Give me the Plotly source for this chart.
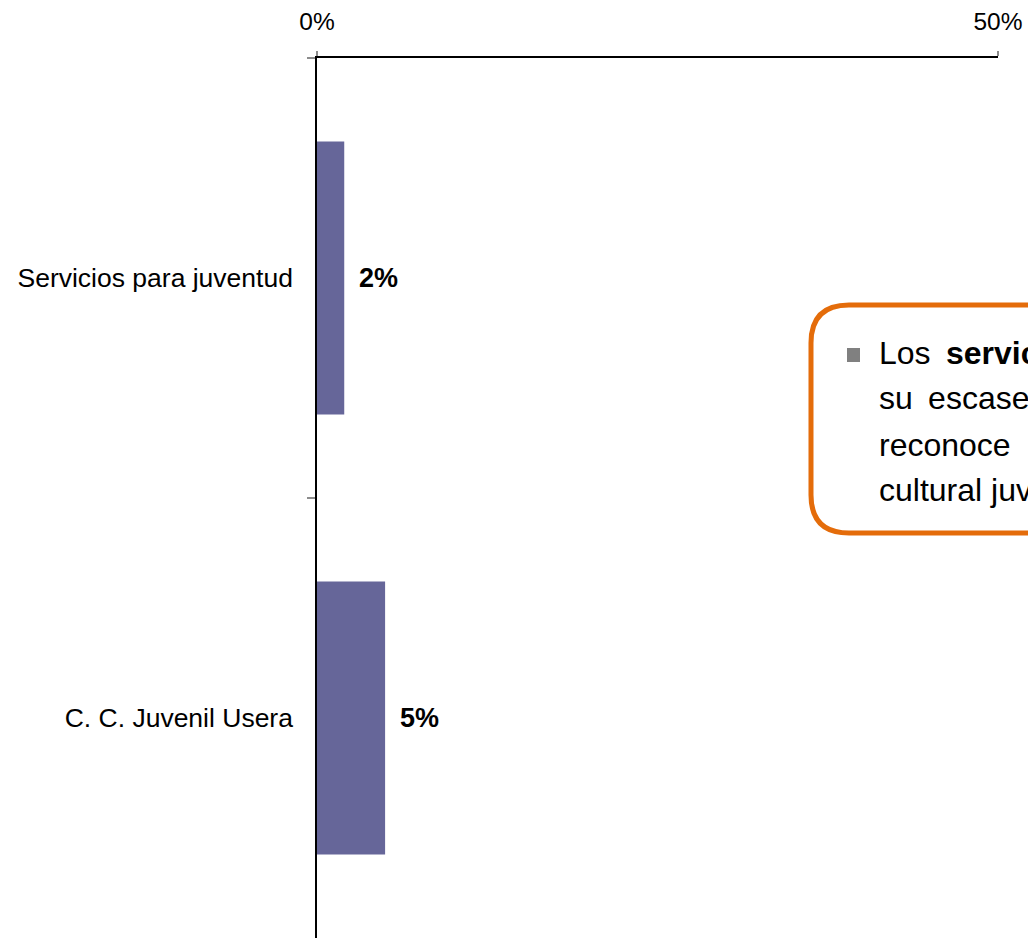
import plotly.graph_objects as go

# Chart data
categories = ["Servicios para juventud", "C. C. Juvenil Usera"]
values = [2, 5]
value_labels = ["2%", "5%"]
x_tick_vals = [0, 50]
x_tick_text = ["0%", "50%"]
note_lines = [
    "Los\u2009 <b>servicios</b>",
    "su\u2009 escasez",
    "reconoce",
    "cultural juvenil",
]

FONT = "Liberation Sans, Arial, sans-serif"
W, H = 1028, 938
L_M, R_M, T_M, B_M = 317, 30, 58, 0
PW = W - L_M - R_M
PH = H - T_M - B_M


def px(x):
    """Pixel column -> paper x."""
    return (x - L_M) / PW


def py(y):
    """Pixel row -> paper y."""
    return (H - B_M - y) / PH


fig = go.Figure(
    go.Bar(
        y=categories,
        x=values,
        orientation="h",
        marker=dict(color="#666699", line=dict(width=0)),
        hoverinfo="skip",
    )
)

# Value labels just past the end of each bar
annotations = []
for cat, v, lab in zip(categories, values, value_labels):
    annotations.append(dict(
        x=v, y=cat, xref="x", yref="y", text=f"<b>{lab}</b>",
        showarrow=False, xanchor="left", yanchor="middle", xshift=13,
        font=dict(family=FONT, size=27, color="black"),
    ))

# Callout text lines
line_centers = [353, 398, 445, 490]
for txt, yc in zip(note_lines, line_centers):
    annotations.append(dict(
        x=px(877), y=py(yc), xref="paper", yref="paper", text=txt,
        showarrow=False, xanchor="left", yanchor="middle",
        font=dict(family=FONT, size=32, color="black"),
    ))

# Rounded callout frame (runs past the right edge)
bl, bt, bb, br, rad = 811, 305, 533, 1200, 38


def pt(x, y):
    return f"{px(x):.5f},{py(y):.5f}"


frame_path = (
    f"M {pt(bl, bt + rad)} Q {pt(bl, bt)} {pt(bl + rad, bt)} "
    f"L {pt(br, bt)} L {pt(br, bb)} L {pt(bl + rad, bb)} "
    f"Q {pt(bl, bb)} {pt(bl, bb - rad)} Z"
)

shapes = [
    dict(type="path", path=frame_path, xref="paper", yref="paper",
         line=dict(color="#E46C0A", width=5), fillcolor="rgba(0,0,0,0)"),
    dict(type="rect", xref="paper", yref="paper",
         x0=px(847), x1=px(860), y0=py(362), y1=py(348),
         line=dict(width=0), fillcolor="#808080"),
]

fig.update_layout(
    width=W, height=H,
    margin=dict(l=L_M, r=R_M, t=T_M, b=B_M, autoexpand=False),
    paper_bgcolor="white", plot_bgcolor="white",
    showlegend=False,
    bargap=0.38,
    annotations=annotations,
    shapes=shapes,
    font=dict(family=FONT, color="black"),
)

fig.update_xaxes(
    side="top", range=[0, 50],
    tickmode="array", tickvals=x_tick_vals, ticktext=x_tick_text,
    ticks="outside", ticklen=5, tickwidth=1.5, tickcolor="#8c8c8c",
    ticklabelstandoff=11,
    tickfont=dict(family=FONT, size=24.5, color="black"),
    showline=True, linecolor="black", linewidth=1.5,
    showgrid=False, zeroline=False, automargin=False,
)

fig.update_yaxes(
    type="category", categoryorder="array", categoryarray=categories,
    autorange="reversed",
    ticks="outside", tickson="boundaries", ticklen=8, tickwidth=1.5,
    tickcolor="#8c8c8c", ticklabelstandoff=17,
    tickfont=dict(family=FONT, size=26.5, color="black"),
    showline=True, linecolor="black", linewidth=1.5,
    showgrid=False, zeroline=False, automargin=False,
)

fig.write_html("out.html")
